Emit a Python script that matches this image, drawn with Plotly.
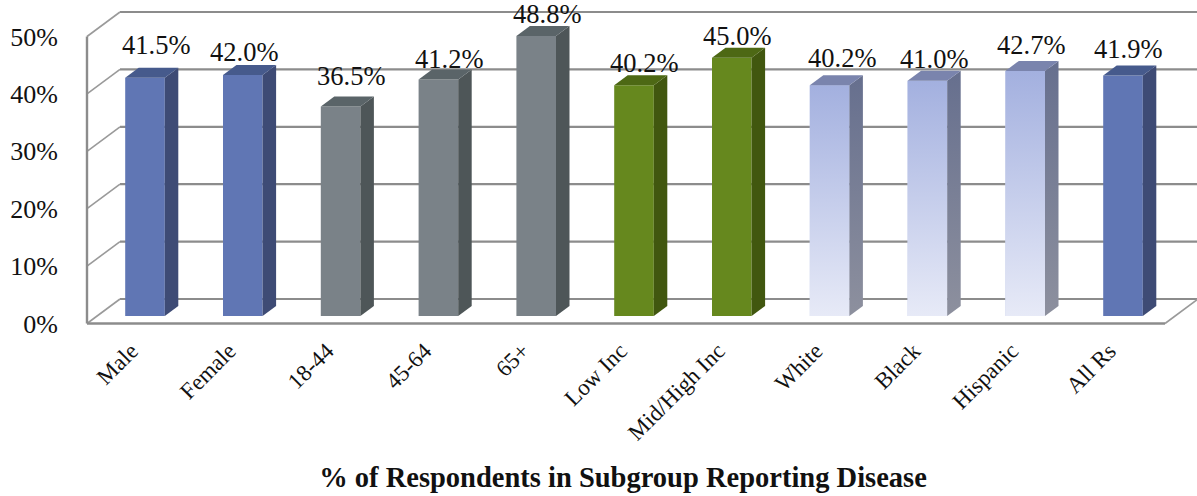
import plotly.graph_objects as go

categories = ["Male", "Female", "18-44", "45-64", "65+", "Low Inc", "Mid/High Inc", "White", "Black", "Hispanic", "All Rs"]
values = [41.5, 42.0, 36.5, 41.2, 48.8, 40.2, 45.0, 40.2, 41.0, 42.7, 41.9]
y_ticks = [0, 10, 20, 30, 40, 50]
y_tick_text = ["0%", "10%", "20%", "30%", "40%", "50%"]
groups = ["blue", "blue", "gray", "gray", "gray", "green", "green", "light", "light", "light", "blue"]
title_text = "% of Respondents in Subgroup Reporting Disease"

# label nudges in px (manual placement in the original)
label_dx = [11, 1, 10, 11, 11, 10, 5, 12, 7, 6, 5]
label_dy = [33, 23, 30, 21, 22, 22, 22, 27, 22, 26, 26]

W, H = 1197, 496
PX_X, PX_Y = 97.8, 5.74       # px per category, px per percent
L, B = 80, 164
x_range = [(L - 145) / PX_X, (W - 145) / PX_X]
y_range = [(323.5 - (H - B)) / PX_Y, 323.5 / PX_Y]

floor_v = 7.5 / PX_Y          # bars stand slightly behind the front edge
half_w = 19.8 / PX_X
bar_dx, bar_dy = 13.5 / PX_X, 10 / PX_Y
wall_dx, wall_dy = 33 / PX_X, 24.5 / PX_Y
wall_left = (87 - 145) / PX_X
wall_right = (1165 - 145) / PX_X

palette = {
    "blue": dict(front="#6076b4", side="#3e4b75", top="#465a8c"),
    "gray": dict(front="#7a8288", side="#4e5658", top="#5a6468"),
    "green": dict(front="#66881e", side="#41570f", top="#4d6814"),
    "light": dict(front="#c5cdea", side="#777e97", top="#7a84ad"),
}
GRID = "#8c8c8c"
FONT = "Liberation Serif"

fig = go.Figure()

# walls and floor
shapes = []
def line(x0, y0, x1, y1, w=2.0, color=GRID):
    shapes.append(dict(type="line", xref="x", yref="y", x0=x0, y0=y0, x1=x1, y1=y1,
                       layer="below", line=dict(color=color, width=w)))
for t in y_ticks:
    line(wall_left + wall_dx, t + wall_dy, x_range[1], t + wall_dy, 2.2)
    line(wall_left, t, wall_left + wall_dx, t + wall_dy, 1.6, "#9a9a9a")
line(wall_left, 0, wall_left, 50, 2.4)
line(wall_left, 0, wall_right, 0, 2.4)
line(wall_right, 0, wall_right + wall_dx, wall_dy, 1.6, "#9a9a9a")

xs = list(range(len(categories)))

# front faces
fig.add_trace(go.Bar(
    x=xs, y=values, base=[floor_v] * len(values), width=2 * half_w,
    marker=dict(color=[palette[g]["front"] for g in groups], line=dict(width=0)),
    hoverinfo="skip", showlegend=False,
))

for i, v in enumerate(values):
    c = palette[groups[i]]
    xl, xr = i - half_w, i + half_w
    yb, yt = floor_v, floor_v + v
    light = groups[i] == "light"
    if light:
        # gradient overlay on the front face
        fig.add_trace(go.Scatter(
            x=[xl, xr, xr, xl, xl], y=[yb, yb, yt, yt, yb], mode="none", fill="toself",
            fillgradient=dict(type="vertical",
                              colorscale=[[0, "#e7eaf7"], [1, "#a3b0df"]]),
            hoverinfo="skip", showlegend=False))
    side = dict(x=[xr, xr + bar_dx, xr + bar_dx, xr, xr],
                y=[yb, yb + bar_dy, yt + bar_dy, yt, yb], mode="none", fill="toself",
                hoverinfo="skip", showlegend=False)
    if light:
        side["fillgradient"] = dict(type="vertical",
                                    colorscale=[[0, "#8d909e"], [1, "#666f8e"]])
    else:
        side["fillcolor"] = c["side"]
    fig.add_trace(go.Scatter(**side))
    fig.add_trace(go.Scatter(
        x=[xl, xr, xr + bar_dx, xl + bar_dx, xl],
        y=[yt, yt, yt + bar_dy, yt + bar_dy, yt], mode="none", fill="toself",
        fillcolor=c["top"], hoverinfo="skip", showlegend=False))
    fig.add_annotation(x=i, y=yt, text=f"{v:.1f}%", showarrow=False,
                       xshift=label_dx[i], yshift=label_dy[i],
                       font=dict(family=FONT, size=26.5, color="#111"))

fig.update_layout(
    width=W, height=H, autosize=False,
    margin=dict(l=L, r=0, t=0, b=B, pad=0),
    paper_bgcolor="white", plot_bgcolor="white",
    showlegend=False, shapes=shapes, barmode="overlay",
    title=dict(text=f"<b>{title_text}</b>", x=623 / W, xanchor="center", y=1 - 477 / H,
               yanchor="middle", font=dict(family=FONT, size=28.5, color="#111")),
    xaxis=dict(range=x_range, tickvals=[x - 0.14 for x in xs], ticktext=categories, tickangle=-45,
               showgrid=False, zeroline=False, showline=False, ticks="",
               tickfont=dict(family=FONT, size=23, color="#111")),
    yaxis=dict(range=y_range, tickvals=y_ticks, ticktext=y_tick_text,
               showgrid=False, zeroline=False, showline=False, ticks="outside",
               ticklen=16, tickcolor="rgba(0,0,0,0)",
               tickfont=dict(family=FONT, size=26, color="#111")),
)
fig.write_html("out.html", config={"displayModeBar": False},
               post_script="document.body.style.margin='0';document.documentElement.style.overflow='hidden';")
